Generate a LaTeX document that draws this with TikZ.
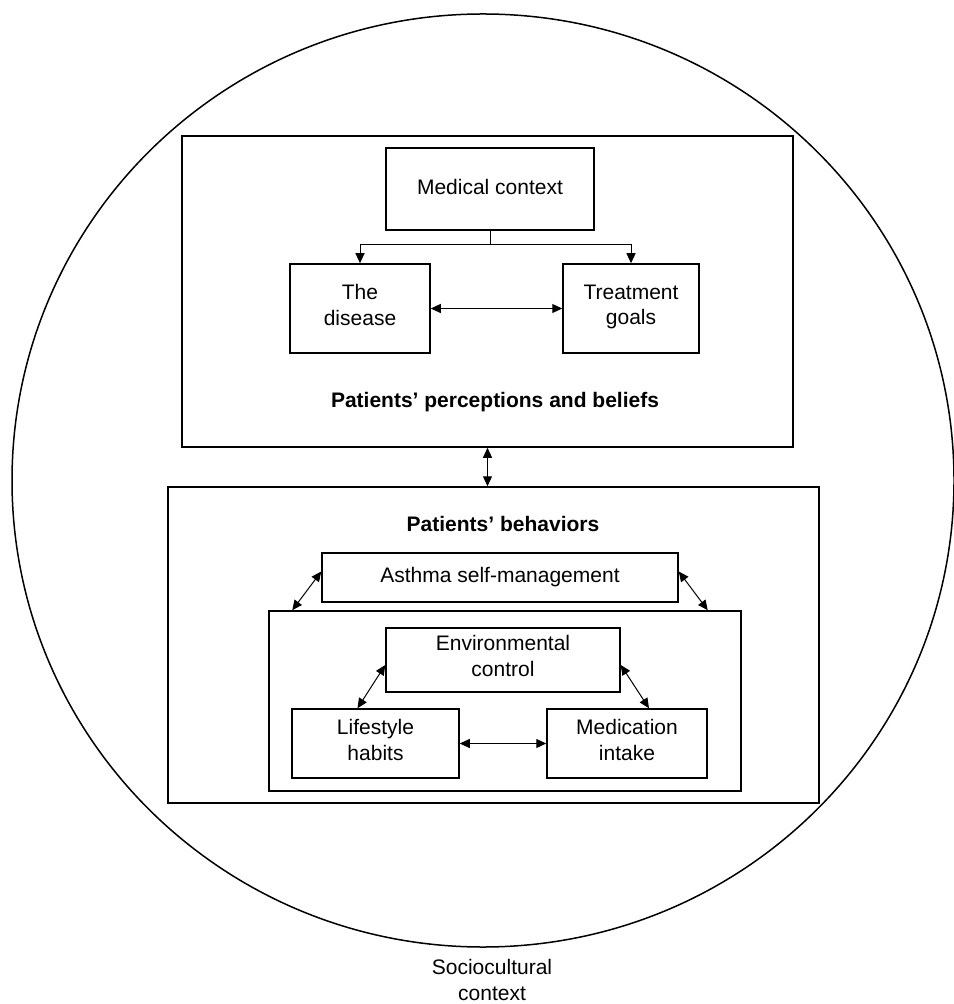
\documentclass[tikz,border=0pt]{standalone}
\usepackage{fontspec}
\setmainfont{Liberation Sans}
\usepackage{tikz}
\usetikzlibrary{arrows.meta,shapes,calc}

\begin{document}
\begin{tikzpicture}[x=0.5pt, y=-0.5pt, line width=0.75pt, font=\fontsize{10.5}{12.8}\selectfont,
  main box/.style={draw, rectangle, align=center, inner sep=0pt, execute at end node=\strut},
  group box/.style={draw, rectangle, inner sep=0pt},
  head/.style={font=\fontsize{10.5}{12.8}\selectfont\bfseries},
  tip/.style={line width=0.5pt, -{Triangle[length=5pt,width=4.5pt]}},
  both/.style={line width=0.5pt, {Triangle[length=5pt,width=4.5pt]}-{Triangle[length=5pt,width=4.5pt]}}]
\useasboundingbox (0,0) rectangle (953,1004);
\draw (483,480.5) ellipse [x radius=471, y radius=466.5];
\node[align=center] (socio) at (492,980) {Sociocultural\\context};
% perceptions
\node[group box, minimum width=305.5pt, minimum height=155.5pt] (percep) at (487.5,291.5) {};
\node[main box, minimum width=104pt, minimum height=41pt] (medctx) at (490,189) {Medical context};
\node[main box, minimum width=70pt, minimum height=44.5pt] (disease) at (360,308.5) {The\\disease};
\node[main box, minimum width=68pt, minimum height=44.5pt] (treat) at (631,308.5) {Treatment\\goals};
\node[head] (percep title) at (495,402) {Patients’ perceptions and beliefs};
% behaviors
\node[group box, minimum width=325.5pt, minimum height=158pt] (behav) at (493.5,645) {};
\node[head] (behav title) at (503,524) {Patients’ behaviors};
\node[main box, minimum width=178pt, minimum height=24.5pt] (asthma) at (500,577.5) {Asthma self-management};
\node[group box, minimum width=236pt, minimum height=90pt] (inner) at (505,701) {};
\node[main box, minimum width=117pt, minimum height=32pt] (env) at (503,660) {Environmental\\control};
\node[main box, minimum width=83.5pt, minimum height=34.5pt] (life) at (375.5,743.5) {Lifestyle\\habits};
\node[main box, minimum width=80pt, minimum height=34.5pt] (med) at (627,743.5) {Medication\\intake};
\draw[line width=0.5pt] (medctx.south) -- ++(0,14) coordinate (fork);
\draw[tip] (fork) -| (disease.north);
\draw[tip] (fork) -| (treat.north);
\path
(disease) edge[both] (treat)
(percep.south) edge[both] (percep.south |- behav.north)
([yshift=3pt]asthma.west) edge[both] ([xshift=12pt]inner.north west)
([yshift=3pt]asthma.east) edge[both] ([xshift=-17pt]inner.north east)
([yshift=-2.5pt]env.west) edge[both] ([xshift=-9pt]life.north)
([yshift=-2.5pt]env.east) edge[both] ([xshift=11pt]med.north)
(life) edge[both] (med);
\end{tikzpicture}
\end{document}
